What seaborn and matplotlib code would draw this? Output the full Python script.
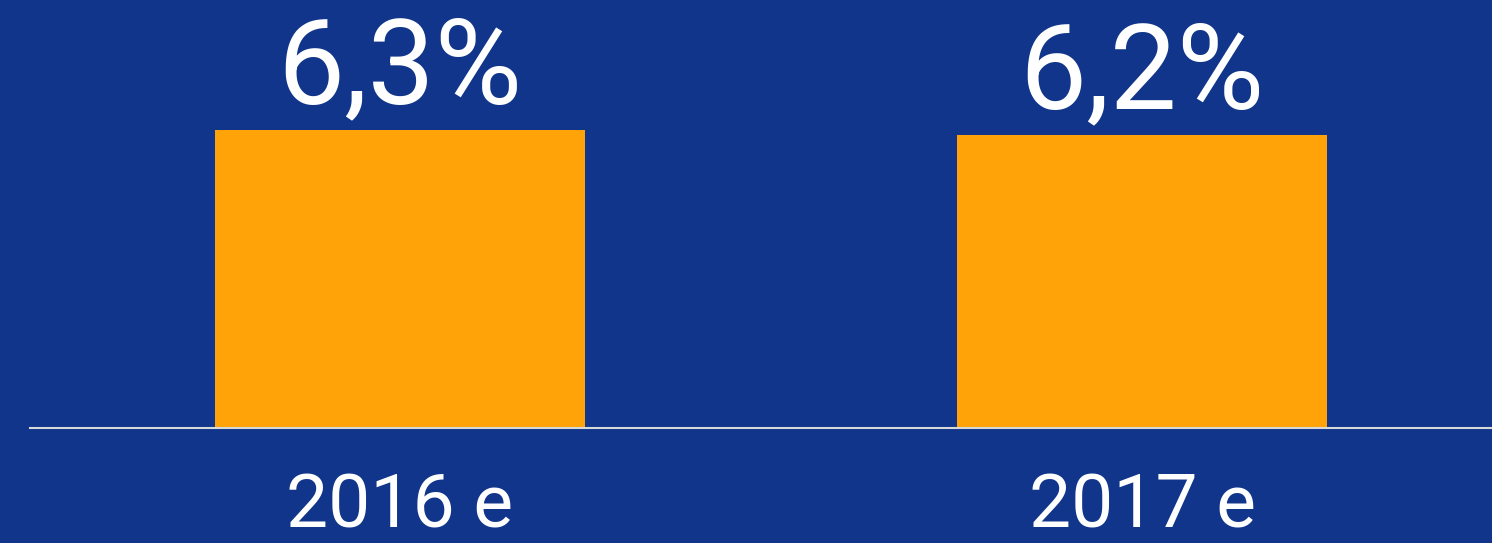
import pandas as pd
import matplotlib
matplotlib.use("Agg")
import matplotlib.pyplot as plt
import seaborn as sns

years = ["2016 e", "2017 e"]
values = [6.3, 6.2]
labels = ["6,3%", "6,2%"]

bg = "#10358a"
bar_color = "#ffa308"

sns.set_style("white")
plt.rcParams['font.family'] = ['Roboto', 'DejaVu Sans']

df = pd.DataFrame({"year": years, "value": values})

fig = plt.figure(figsize=(14.92, 5.43), dpi=100, facecolor=bg)
ax = fig.add_axes([30 / 1492, 1 - 428 / 543, 1 - 30 / 1492, 428 / 543])
ax.set_facecolor(bg)

sns.barplot(data=df, x="year", y="value", color=bar_color, width=0.498,
            saturation=1, ax=ax, edgecolor="none")

ax.set_ylim(0, 6.3 * 428 / 298)
ax.set_xlim(-0.498, 1.471)

# value labels above the bars
for i, (v, lab) in enumerate(zip(values, labels)):
    ax.annotate(lab, (i, v), xytext=(0, 19), textcoords="offset points",
                ha="center", va="baseline", color="white", fontsize=86)

for s in ["top", "right", "left"]:
    ax.spines[s].set_visible(False)
ax.spines["bottom"].set_color("#d8d8d8")
ax.spines["bottom"].set_linewidth(1.5)
ax.set_yticks([])
ax.set_xlabel("")
ax.set_ylabel("")
ax.tick_params(axis="x", length=0, pad=31, labelsize=54, labelcolor="white")

fig.savefig("out.png", dpi=100, facecolor=bg)
